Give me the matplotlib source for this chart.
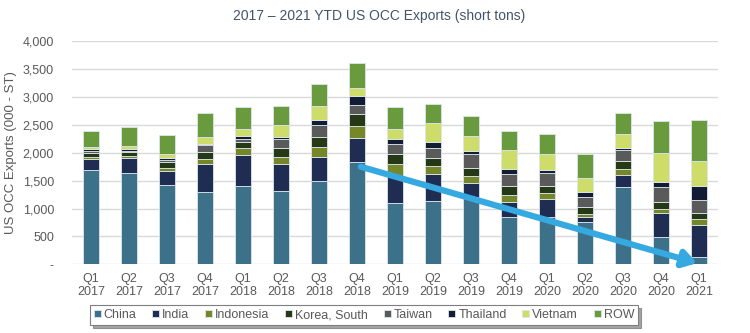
import matplotlib.pyplot as plt
import numpy as np

plt.rcParams['font.family'] = ['Liberation Sans', 'DejaVu Sans']

# quarterly exports by destination, thousand short tons
quarters = ['Q1\n2017', 'Q2\n2017', 'Q3\n2017', 'Q4\n2017',
            'Q1\n2018', 'Q2\n2018', 'Q3\n2018', 'Q4\n2018',
            'Q1\n2019', 'Q2\n2019', 'Q3\n2019', 'Q4\n2019',
            'Q1\n2020', 'Q2\n2020', 'Q3\n2020', 'Q4\n2020',
            'Q1\n2021']
china     = [1695, 1641, 1414, 1296, 1398, 1314, 1500, 1830, 1106, 1138, 1200, 857, 850, 761, 1390, 497, 132]
india     = [186, 264, 251, 510, 558, 492, 420, 444, 479, 485, 256, 263, 318, 96, 209, 419, 569]
indonesia = [36, 30, 60, 90, 126, 120, 186, 210, 215, 144, 125, 132, 108, 53, 102, 72, 108]
korea     = [72, 72, 102, 120, 114, 156, 180, 204, 185, 138, 138, 156, 132, 126, 150, 132, 113]
taiwan    = [42, 24, 48, 120, 60, 168, 210, 174, 174, 174, 258, 215, 227, 180, 198, 264, 228]
thailand  = [30, 36, 36, 30, 54, 42, 84, 156, 96, 107, 54, 84, 48, 78, 42, 96, 252]
vietnam   = [42, 60, 72, 126, 108, 204, 252, 150, 179, 348, 263, 336, 300, 251, 239, 515, 449]
row       = [293, 329, 335, 414, 396, 348, 396, 438, 384, 338, 360, 353, 359, 432, 389, 569, 743]

series = [('China', china, '#3C7189'),
          ('India', india, '#1F2D52'),
          ('Indonesia', indonesia, '#76872A'),
          ('Korea, South', korea, '#263916'),
          ('Taiwan', taiwan, '#5A5A5A'),
          ('Thailand', thailand, '#121C33'),
          ('Vietnam', vietnam, '#CEDD6A'),
          ('ROW', row, '#699A3D')]

fig = plt.figure(figsize=(7.5, 3.33), dpi=100)
ax = fig.add_axes([72/750, 68.7/333, 646/750, 223/333])

x = np.arange(len(quarters))
bottom = np.zeros(len(quarters))
for name, vals, col in series:
    ax.bar(x, vals, 0.41, bottom=bottom, color=col, label=name,
           edgecolor='#DCE6EC', linewidth=0.6, zorder=3)
    bottom += np.array(vals)

ax.set_xlim(-0.5, len(quarters) - 0.5)
ax.set_ylim(0, 4000)
yt = np.arange(0, 4001, 500)
ax.set_yticks(yt)
ax.set_yticklabels(['-' if v == 0 else f'{v:,}' for v in yt])
ax.set_xticks(x)
ax.set_xticklabels(quarters)
ax.tick_params(axis='both', length=0, labelsize=9, colors='#595959')
ax.tick_params(axis='y', pad=13)
ax.tick_params(axis='x', pad=6)
ax.grid(axis='y', color='#D9D9D9', linewidth=1, zorder=0)
for s in ax.spines.values():
    s.set_visible(False)

ax.set_ylabel('US OCC Exports (000 - ST)', fontsize=9.5, color='#595959', labelpad=4)
fig.text(0.505, 0.952, '2017 \u2013 2021 YTD US OCC Exports (short tons)',
         ha='center', va='center', fontsize=10, color='#44546A')

# downward trend arrow
ax.annotate('', xy=(15.95, 20), xytext=(7.1, 1750),
            arrowprops=dict(arrowstyle='-|>,head_length=0.8,head_width=0.5',
                            lw=4.5, color='#36A9E1', shrinkA=0, shrinkB=0),
            zorder=5)

leg = fig.legend(loc='center', bbox_to_anchor=(364/750, 1 - 315/333), ncol=8,
                 fontsize=9, frameon=True, fancybox=False, shadow=True,
                 handlelength=0.55, handleheight=0.55, handletextpad=0.25,
                 columnspacing=1.25, borderpad=0.3, edgecolor='#7F7F7F')
for t in leg.get_texts():
    t.set_color('#595959')
leg.get_frame().set_linewidth(0.8)

fig.savefig('out.png', dpi=100)
